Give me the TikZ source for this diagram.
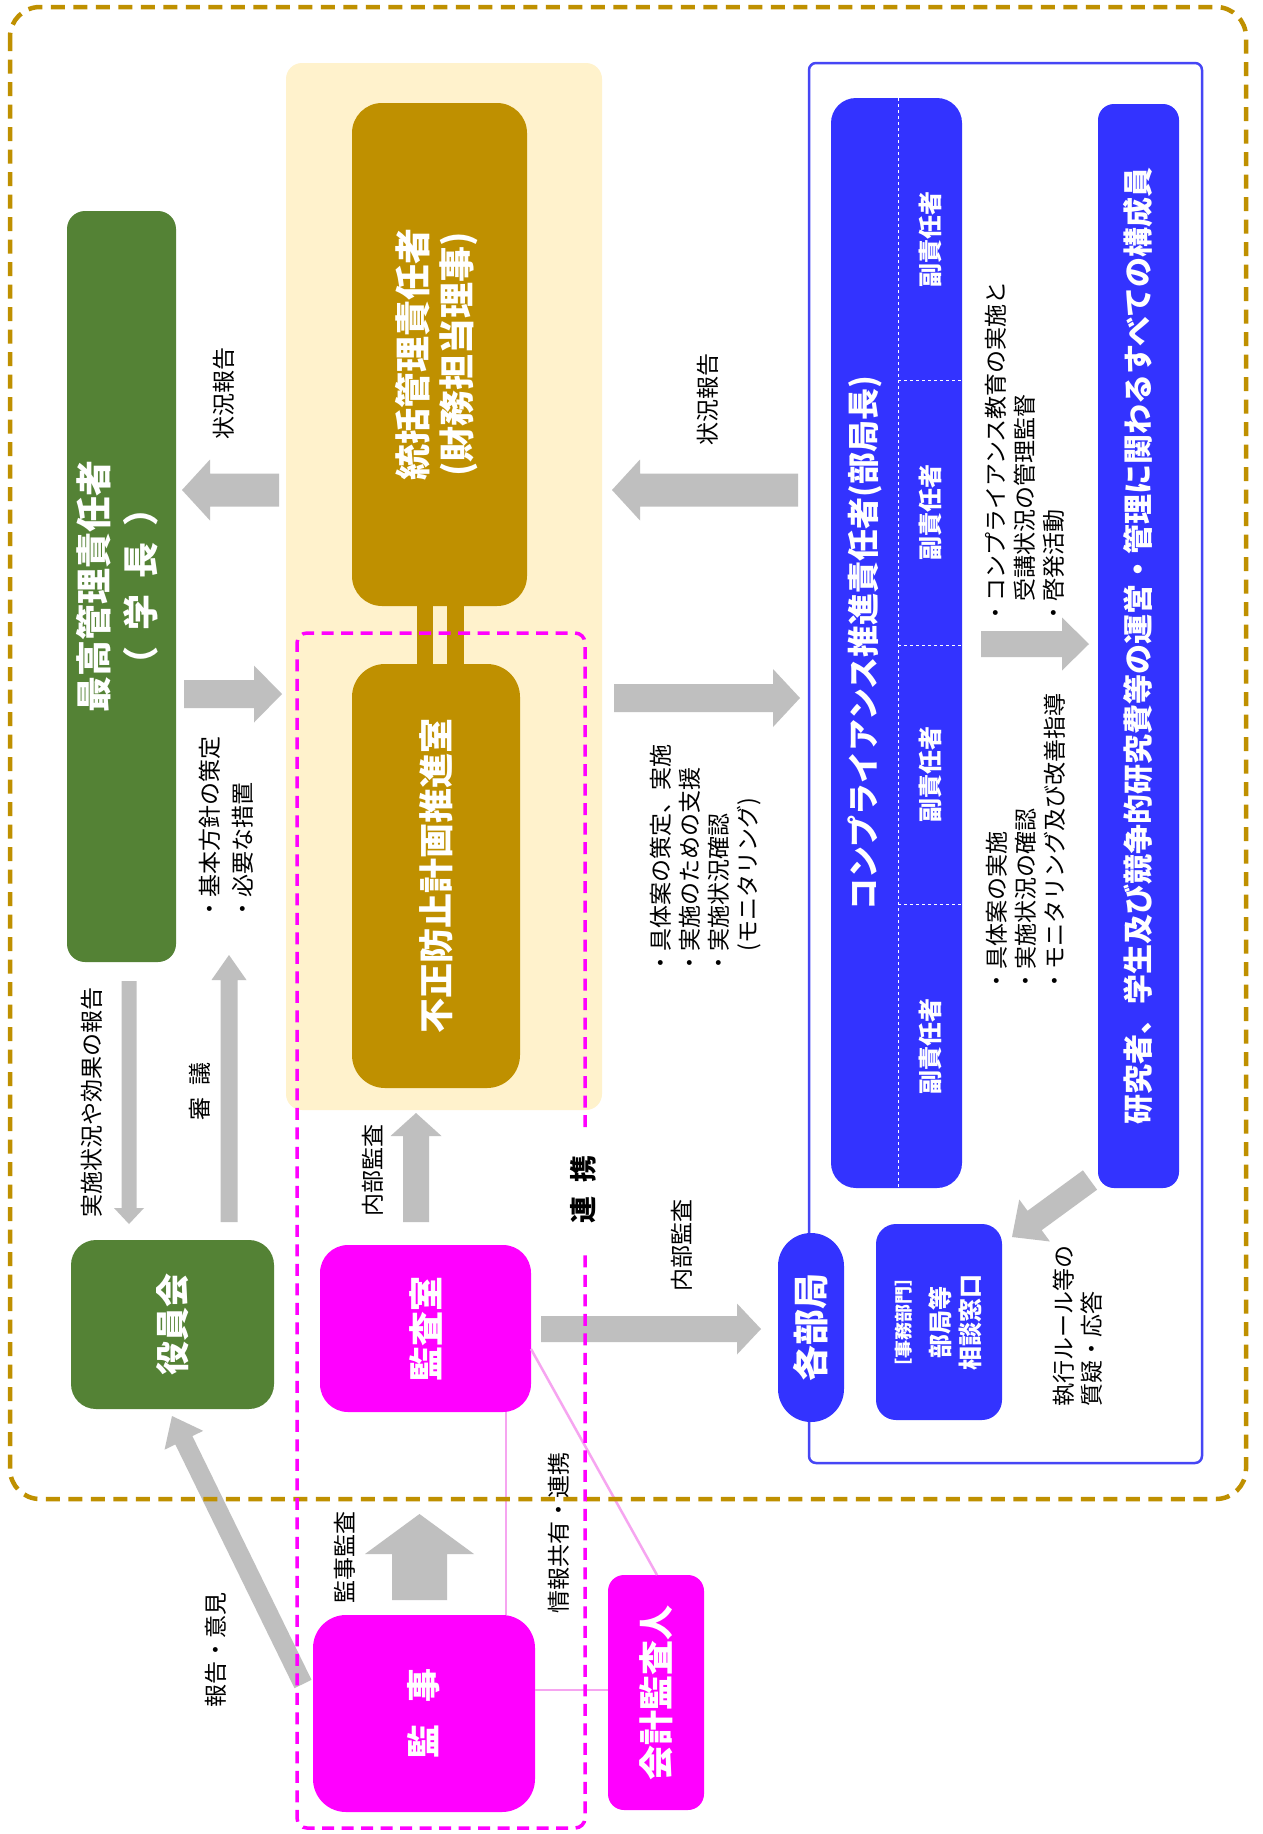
\documentclass[tikz,border=0pt]{standalone}
\usepackage{fontspec}
\setmainfont{Noto Sans CJK JP}
\usepackage{graphicx}
\usetikzlibrary{calc}

\definecolor{gold}{RGB}{191,144,0}
\definecolor{cream}{RGB}{255,242,204}
\definecolor{leaf}{RGB}{84,130,53}
\definecolor{mag}{RGB}{255,0,255}
\definecolor{pinkline}{RGB}{246,165,240}
\definecolor{arrowgray}{RGB}{191,191,191}
\definecolor{vblue}{RGB}{51,51,255}
\definecolor{frameblue}{RGB}{70,70,245}

% vertical (rotated) text helpers
\newcommand{\vtext}[1]{\rotatebox{90}{#1}}
\newcommand{\vlines}[2]{\rotatebox{90}{\begin{tabular}{@{}#1@{}}#2\end{tabular}}}
\newcommand{\setfs}[2]{\fontsize{#1}{#2}\selectfont}

% block arrow: from, tip, half shaft width, head length, half head width
\newcommand{\fatarrow}[5]{%
  \coordinate (fa-neck) at ($(#2)!#4!(#1)$);
  \fill[arrowgray]
    ($(#1)!#3!90:(#2)$) -- ($(fa-neck)!#3!90:(#2)$) -- ($(fa-neck)!#5!90:(#2)$) -- (#2)
    -- ($(fa-neck)!#5!-90:(#2)$) -- ($(fa-neck)!#3!-90:(#2)$) -- ($(#1)!#3!-90:(#2)$) -- cycle;}

\begin{document}
\begin{tikzpicture}[x=1pt,y=-1pt,
  box/.style={rounded corners=#1, inner sep=0pt, outer sep=0pt, text=white, font=\bfseries},
  lbl/.style={inner sep=0pt, outer sep=0pt, font=\setfs{23}{29}},
  sublbl/.style={inner sep=0pt, text=white, font=\bfseries\setfs{24}{28}},
  pinkconn/.style={draw=pinkline, line width=2.5pt},
  goldbar/.style={draw=gold, line width=16.5pt}]

\useasboundingbox (0,0) rectangle (1263,1834);
\fill[white] (0,0) rectangle (1263,1834);

% central zone
\node[fill=cream, rounded corners=16pt, inner sep=0pt, minimum width=316pt, minimum height=1047pt] (zone) at (444,586.5) {};

% left column
\node[box=18pt, fill=leaf, minimum width=109pt, minimum height=751pt] (gtop) at (121.5,586.5)
  {\setfs{36}{47}\vlines{c}{最高管理責任者\\（\hspace{0.45em}学\hspace{0.45em}長\hspace{0.45em}）}};
\node[box=25pt, fill=leaf, minimum width=203pt, minimum height=169pt] (board) at (172.5,1324.5)
  {\setfs{34}{40}\vtext{役員会}};

% central column
\node[box=30pt, fill=gold, minimum width=175pt, minimum height=503pt] (chief) at (439.5,354.5)
  {\setfs{36}{44}\vlines{c}{統括管理責任者\\(財務担当理事)}};
\node[box=33pt, fill=gold, minimum width=168pt, minimum height=424pt] (office) at (436,876)
  {\setfs{35}{40}\vtext{不正防止計画推進室}};
\draw[goldbar] (chief.south -| 425,0) -- (office.north -| 425,0);
\draw[goldbar] (chief.south -| 455.5,0) -- (office.north -| 455.5,0);

\node[box=28pt, fill=mag, minimum width=211pt, minimum height=167pt] (audit) at (425.5,1328.5)
  {\setfs{35}{40}\vtext{監査室}};
\node[box=33pt, fill=mag, minimum width=222pt, minimum height=197pt] (auditor) at (424,1713.5)
  {\setfs{34}{40}\vtext{監\hspace{22pt}事}};
\node[box=16pt, fill=mag, minimum width=96pt, minimum height=235pt] (cpa) at (656,1692.5)
  {\setfs{35}{40}\vtext{会計監査人}};

% departments frame
\node[draw=frameblue, line width=2.5pt, fill=white, rounded corners=7pt, inner sep=0pt,
  minimum width=393pt, minimum height=1400pt] (unit) at (1005.5,763) {};
\node[box=25pt, fill=vblue, minimum width=131pt, minimum height=1090pt] (comp) at (896.5,643) {};
\draw[white, line width=1pt, dash pattern=on 3pt off 3pt] (comp.north -| 898,0) -- (comp.south -| 898,0);
\draw[white, line width=1pt, dash pattern=on 3pt off 3pt] (898,380) -- (comp.east |- 0,380);
\draw[white, line width=1pt, dash pattern=on 3pt off 3pt] (898,645) -- (comp.east |- 0,645);
\draw[white, line width=1pt, dash pattern=on 3pt off 3pt] (898,904) -- (comp.east |- 0,904);
\node[inner sep=0pt, text=white, font=\bfseries\setfs{32}{36}] (comptitle) at (864.5,643)
  {\vtext{コンプライアンス推進責任者(部局長)}};
\node[sublbl] (dep1) at (930,239) {\vtext{副責任者}};
\node[sublbl] (dep2) at (930,512.5) {\vtext{副責任者}};
\node[sublbl] (dep3) at (930,774.5) {\vtext{副責任者}};
\node[sublbl] (dep4) at (930,1046) {\vtext{副責任者}};

\node[box=16pt, fill=vblue, minimum width=81pt, minimum height=1084pt] (staff) at (1138.5,646)
  {\setfs{30}{34}\vtext{研究者、学生及び競争的研究費等の運営・管理に関わるすべての構成員}};
\node[box=33pt, fill=vblue, minimum width=66pt, minimum height=189pt] (dept) at (811,1327.5)
  {\setfs{36}{40}\vtext{各部局}};
\node[box=20pt, fill=vblue, minimum width=126pt, minimum height=196pt] (desk) at (939,1322)
  {\setfs{24}{30}\vlines{c}{{\setfs{18}{30}［事務部門］}\\[9pt]部局等\\相談窓口}};

% block arrow ends
\coordinate (a1s) at (279,490);   \coordinate (a1e) at (182,490);
\coordinate (a2s) at (184,694);   \coordinate (a2e) at (282,694);
\coordinate (a3s) at (129,981);   \coordinate (a3e) at (129,1224);
\coordinate (a4s) at (229,1222);  \coordinate (a4e) at (229,955);
\coordinate (a5s) at (416,1222);  \coordinate (a5e) at (416,1113);
\coordinate (a6s) at (541,1329);  \coordinate (a6e) at (761,1329);
\coordinate (a7s) at (419.5,1600);\coordinate (a7e) at (419.5,1514);
\coordinate (a8s) at (303,1684);  \coordinate (a8e) at (172,1416);
\coordinate (a9s) at (798,490);   \coordinate (a9e) at (612,490);
\coordinate (a10s) at (614,698);  \coordinate (a10e) at (800,698);
\coordinate (a11s) at (981,644);  \coordinate (a11e) at (1089,644);
\coordinate (a12s) at (1090,1180);\coordinate (a12e) at (1012,1237);

\fatarrow{a1s}{a1e}{16.5pt}{28pt}{30.5pt}
\fatarrow{a2s}{a2e}{14pt}{28pt}{28.5pt}
\fatarrow{a3s}{a3e}{7.5pt}{16pt}{15pt}
\fatarrow{a4s}{a4e}{8.5pt}{25pt}{17.5pt}
\fatarrow{a5s}{a5e}{13pt}{23pt}{25.5pt}
\fatarrow{a6s}{a6e}{13pt}{24pt}{25.5pt}
\fatarrow{a7s}{a7e}{27.5pt}{40pt}{54.5pt}
\fatarrow{a8s}{a8e}{9.5pt}{27pt}{21.5pt}
\fatarrow{a9s}{a9e}{16.5pt}{28pt}{30.5pt}
\fatarrow{a10s}{a10e}{14pt}{27pt}{29pt}
\fatarrow{a11s}{a11e}{13pt}{27pt}{26.5pt}
\fatarrow{a12s}{a12e}{12pt}{28pt}{26pt}

% thin links between auditors
\draw[pinkconn] (audit.south -| 506,0) -- (auditor.north -| 506,0);
\draw[pinkconn] (auditor.east |- 0,1690) -- (cpa.west |- 0,1690);
\draw[pinkconn] (audit.east |- 0,1349) -- (cpa.north -| 657,0);

% labels
\node[lbl] (l-rep1) at (224,393) {\vtext{状況報告}};
\node[lbl, anchor=south] (l-policy) at (228.5,920) {\setfs{23}{33}\vlines{l}{・基本方針の策定\\・必要な措置}};
\node[lbl] (l-effect) at (92,1102) {\vtext{実施状況や効果の報告}};
\node[lbl] (l-delib) at (200,1091) {\vtext{審\hspace{12pt}議}};
\node[lbl] (l-ia1) at (373,1170) {\vtext{内部監査}};
\node[lbl, font=\bfseries\setfs{27}{30}] (l-link) at (583,1189) {\vtext{連\hspace{14pt}携}};
\node[lbl] (l-ia2) at (682,1245) {\vtext{内部監査}};
\node[lbl] (l-aa) at (345,1557) {\vtext{監事監査}};
\node[lbl] (l-opinion) at (216,1650) {\vtext{報告・意見}};
\node[lbl] (l-share) at (559,1533) {\vtext{情報共有・連携}};
\node[lbl] (l-rep2) at (708,399) {\vtext{状況報告}};
\node[lbl, anchor=south] (l-plan) at (707,974)
  {\vlines{l}{・具体案の策定、実施\\・実施のための支援\\・実施状況確認\\\phantom{・}(モニタリング)}};
\node[lbl, anchor=south] (l-edu) at (1028,624)
  {\vlines{l}{・コンプライアンス教育の実施と\\\phantom{・}受講状況の管理監督\\・啓発活動}};
\node[lbl, anchor=south] (l-impl) at (1029,992)
  {\vlines{l}{・具体案の実施\\・実施状況の確認\\・モニタリング及び改善指導}};
\node[lbl, anchor=south] (l-rule) at (1081,1406)
  {\setfs{23}{28}\vlines{l}{執行ルール等の\\質疑・応答}};

% outer boundary and liaison frame
\draw[gold, line width=4.5pt, dash pattern=on 14pt off 8.5pt, rounded corners=30pt] (10,7) rectangle (1246,1499);
\draw[mag, line width=3.5pt, dash pattern=on 12pt off 7.5pt, rounded corners=10pt]
  (585,1127) -- (585,633) -- (297,633) -- (297,1828) -- (585,1828) -- (585,1251);

\end{tikzpicture}
\end{document}
